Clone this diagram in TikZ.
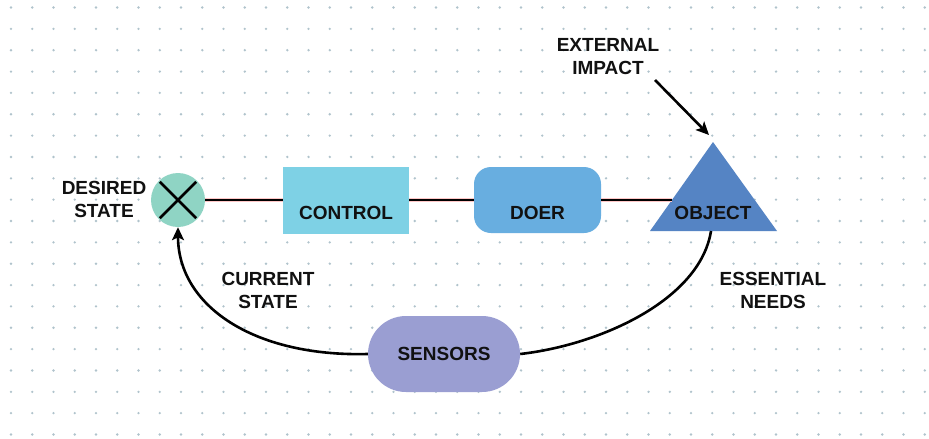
\documentclass[tikz,border=0pt]{standalone}
\usepackage{fontspec}
\setmainfont{Liberation Sans}
\usetikzlibrary{arrows.meta}
\definecolor{dotc}{HTML}{B0C3CC}
\definecolor{circc}{HTML}{8FD4C4}
\definecolor{ctrlc}{HTML}{7ED1E5}
\definecolor{doerc}{HTML}{68AEE0}
\definecolor{objc}{HTML}{5584C4}
\definecolor{sensc}{HTML}{9A9ED2}
\definecolor{txtc}{HTML}{111111}
\begin{document}
\begin{tikzpicture}[x=1pt,y=-1pt,
  lbl/.style={font=\fontsize{19}{23}\selectfont\bfseries, text=txtc, align=center, inner sep=0pt},
  conn/.style={line width=2.3pt, draw=black, preaction={draw=red!22, line width=3.6pt}},
  curve/.style={line width=2.6pt, draw=black},
  arr/.style={curve, -{Stealth[length=13pt,width=12pt,inset=3pt]}}]
\useasboundingbox (0,0) rectangle (929,439);
\fill[white] (0,0) rectangle (929,439);
% dot grid
\foreach \i in {0,...,43}{
  \foreach \j in {0,...,20}{
    \fill[dotc] (11+\i*21.25, 7.5+\j*21.35) circle (1.3);
  }
}
% nodes
\node[circle, fill=circc, minimum size=54pt, inner sep=0pt] (cmp) at (178,200) {};
\draw[line width=2.6pt, black, shorten <=1.5pt, shorten >=1.5pt] (cmp.north west) -- (cmp.south east);
\draw[line width=2.6pt, black, shorten <=1.5pt, shorten >=1.5pt] (cmp.south west) -- (cmp.north east);
\node[rectangle, fill=ctrlc, minimum width=126pt, minimum height=67pt, inner sep=0pt] (ctrl) at (346,200) {};
\node[lbl] (ctrlt) at (346,213) {CONTROL};
\node[rectangle, rounded corners=17pt, fill=doerc, minimum width=127pt, minimum height=66pt, inner sep=0pt] (doer) at (537.5,200) {};
\node[lbl] (doert) at (537.5,213) {DOER};
\fill[objc] (650,231) -- (713,142) -- (777,231) -- cycle;
\node[lbl] (objt) at (713,213) {OBJECT};
\coordinate (objL) at (672,200);
\coordinate (objTop) at (709,135);
\coordinate (objB) at (711,231);
\node[rectangle, rounded corners=38pt, fill=sensc, minimum width=152pt, minimum height=76pt, inner sep=0pt, font=\fontsize{19}{23}\selectfont\bfseries, text=txtc] (sens) at (444,354) {SENSORS};
% labels
\node[lbl] (desired) at (104,199.5) {DESIRED\\STATE};
\node[lbl] (extl) at (608,57) {EXTERNAL\\IMPACT};
\coordinate (exS) at (655,80);
\node[lbl] (curl) at (268,290.5) {CURRENT\\STATE};
\node[lbl] (essl) at (773,290.5) {ESSENTIAL\\NEEDS};
% connectors
\draw[conn] (cmp.east) -- (ctrl.west);
\draw[conn] (ctrl.east) -- (doer.west);
\draw[conn] (doer.east) -- (objL);
\draw[arr] (exS) -- (objTop);
\draw[arr] (sens.west) .. controls (254,357) and (178,306) .. (cmp.south);
\draw[curve] (objB) .. controls (700,300) and (600,345) .. (sens.east);
\end{tikzpicture}
\end{document}
